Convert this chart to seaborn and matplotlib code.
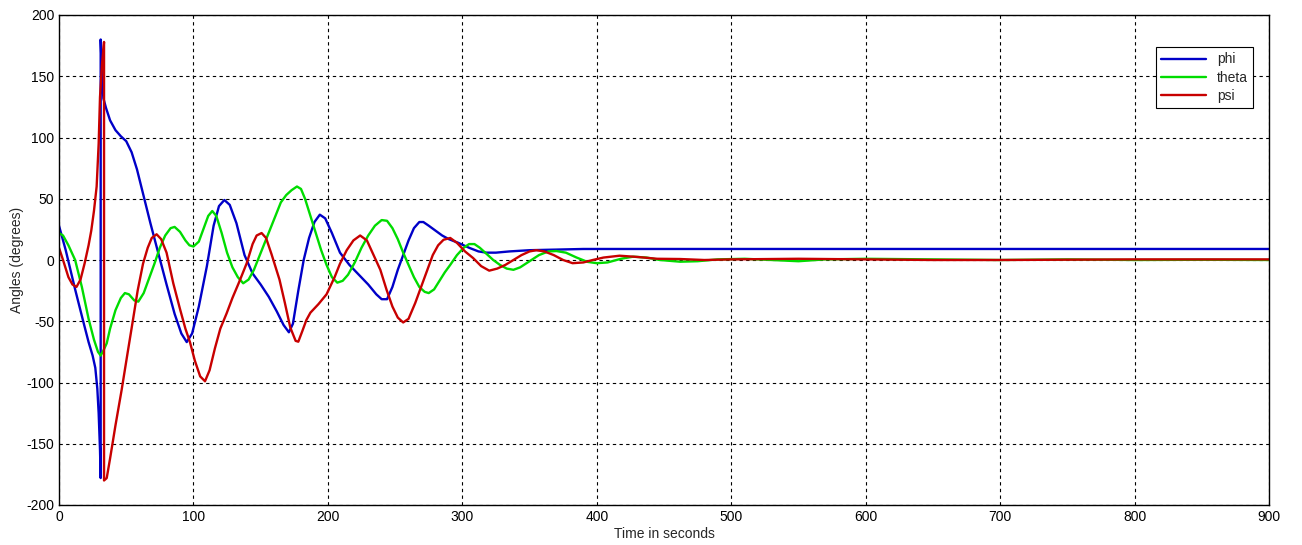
import numpy as np
import pandas as pd
import matplotlib
matplotlib.use('Agg')
import matplotlib.pyplot as plt
import seaborn as sns


# attitude angles (wraps at +-180 kept as repeated time)

phi_t = [0, 5, 12, 18, 22, 25, 27, 28.5, 29.5, 30.5, 31, 31, 32, 33, 35, 38, 42, 46, 50, 54, 58, 63, 68,
         74, 80, 86, 91, 95, 99, 104, 110, 115, 119, 123, 127, 132, 138, 144, 150, 156, 162,
         167, 171, 174, 178, 182, 186, 190, 194, 198, 203, 209, 216, 223, 230, 236, 240, 244,
         248, 252, 256, 260, 264, 268, 271, 275, 280, 285, 290, 297, 305, 312, 318, 325, 335,
         350, 370, 390, 420, 500, 600, 700, 800, 900]
phi_v = [28, 8, -24, -50, -67, -78, -88, -105, -125, -155, -178, 180, 150, 132, 124, 114, 106, 101, 97, 88, 74, 52, 30,
         5, -20, -44, -60, -67, -60, -38, -5, 28, 44, 49, 45, 30, 4, -11, -20, -30, -42,
         -53, -59, -52, -25, 0, 18, 31, 37, 34, 22, 6, -4, -12, -20, -28, -32, -32,
         -22, -8, 4, 16, 26, 31, 31, 28, 24, 20, 17, 14, 10, 7, 6, 6, 7,
         8, 8.5, 9, 9, 9, 9, 9, 9, 9]

theta_t = [0, 3, 7, 12, 17, 22, 26, 29, 31, 33, 35.5, 38, 42, 46, 49, 52, 56, 59, 63, 67,
           71, 75, 79, 83, 86, 90, 94, 97, 100, 104, 108, 111, 114, 117, 121, 125, 129, 133,
           137, 141, 145, 149, 153, 157, 161, 165, 169, 173, 177, 180, 183, 187, 191, 195, 199,
           203, 207, 211, 215, 220, 225, 230, 235, 240, 244, 248, 252, 256, 260, 264, 268, 272,
           275, 279, 283, 287, 291, 296, 301, 305, 309, 313, 318, 323, 328, 333, 338, 343, 350,
           357, 364, 370, 377, 385, 393, 400, 408, 418, 427, 437, 447, 462, 475, 490, 510, 530,
           550, 570, 600, 650, 700, 750, 800, 850, 900]
theta_v = [22, 20, 12, 0, -22, -48, -65, -75, -78, -74, -68, -56, -41, -31, -27, -28, -33, -34, -27, -15,
           -3, 10, 20, 26, 27, 23, 16, 12, 11, 15, 27, 36, 40, 36, 22, 6, -6, -14,
           -19, -16, -8, 3, 14, 25, 36, 47, 53, 57, 60, 58, 50, 36, 22, 8, -4,
           -14, -18.5, -17, -12, -2, 10, 20, 28, 32.6, 32, 26, 17, 6, -4, -14, -22, -26,
           -27, -24, -17, -10, -4, 4, 10, 13, 13, 10, 5, 0, -4, -7, -8, -6, -1,
           4, 7, 7.3, 6, 2, -1.5, -2.6, -2, 1, 2.7, 2, 0, -1.4, -1, 0.5, 1, 0,
           -1, 0.5, 1, 0.5, 0, 0.5, 0, 0.2, 0]

psi_t = [0, 3, 7, 10, 13, 16, 19, 22, 24, 26, 28, 29.5, 30.5, 32, 33.5, 33.5, 35.5, 38, 42, 46.6,
         51, 55, 58.5, 62.5, 66, 69, 72.6, 76, 80, 85, 90, 94, 97.4, 101, 105, 108.6, 112, 116,
         120, 124.7, 129, 134, 139.6, 144, 147, 150.7, 154, 158, 164, 168, 172, 176, 178, 181,
         184, 187, 193, 199, 205, 209, 214, 219, 224, 229, 234, 239, 243.7, 248, 252, 256, 260,
         265, 270, 274, 278, 282, 286, 291, 296, 302, 308, 314, 320, 326, 332, 338, 344, 350,
         355, 361, 368, 375, 382, 390, 397, 405, 417, 430, 445, 462, 480, 500, 550, 600, 650,
         700, 800, 900]
psi_v = [10, 0, -14, -20, -22, -16, -3, 12, 24, 40, 60, 95, 133, 160, 178, -180, -178, -162, -135, -106,
         -76, -49, -25, -3, 10, 18, 21, 17, 6, -19, -40, -56, -67, -82, -95, -99, -90, -72,
         -56, -43.5, -31, -18, -2.7, 13, 20, 22, 18, 5, -16, -35, -55, -66, -66.7, -58,
         -49, -43, -36, -28, -14, -3, 8, 16, 20, 16, 4, -8, -24.5, -38, -47, -51, -48,
         -35, -20, -8, 4, 12, 16.5, 18, 14, 7, 1.6, -5, -8.7, -7, -4, 0, 4, 7,
         8, 7, 4, 0, -2.6, -2, 0, 2, 3.5, 2.5, 1, 0.8, 0, 0.5, 1, 0.5,
         0, 0, 0.5, 0.5]

x_ticks = list(range(0, 901, 100))
y_ticks = list(range(-200, 201, 50))


def plot():
    sns.set_style('white')
    plt.rcParams['font.family'] = ['Liberation Sans', 'DejaVu Sans']
    plt.rcParams['font.size'] = 10
    plt.rcParams['axes.unicode_minus'] = False

    fig = plt.figure(figsize=(13.02, 5.45), dpi=100)
    ax = fig.add_axes([59 / 1302, 1 - 505 / 545, 1210 / 1302, 490 / 545])

    series = [('phi', phi_t, phi_v, '#0000c8'),
              ('theta', theta_t, theta_v, '#00dc00'),
              ('psi', psi_t, psi_v, '#c80000')]
    for name, t, v, col in series:
        data = pd.DataFrame({'t': t, 'v': v})
        sns.lineplot(data=data, x='t', y='v', ax=ax, color=col, lw=1.7,
                     estimator=None, sort=False, label=name)

    ax.set_xlim(0, 900)
    ax.set_ylim(-200, 200)
    ax.set_xticks(x_ticks)
    ax.set_yticks(y_ticks)
    ax.grid(True, color='black', linestyle=(0, (3, 3)), lw=0.8)
    ax.tick_params(direction='in', length=4, colors='black', labelsize=10)
    for s in ax.spines.values():
        s.set_color('black')
        s.set_linewidth(1)

    ax.set_xlabel('Time in seconds', fontsize=10, labelpad=2)
    ax.set_ylabel('Angles (degrees)', fontsize=10, labelpad=1.5)

    leg = ax.legend(loc='upper right', bbox_to_anchor=(0.987, 0.935), borderaxespad=0,
                    fancybox=False, edgecolor='black', framealpha=1, fontsize=10,
                    handlelength=3.2, labelspacing=0.3)
    leg.get_frame().set_linewidth(0.8)

    fig.savefig('out.png', dpi=100)


if __name__ == "__main__":
    plot()
